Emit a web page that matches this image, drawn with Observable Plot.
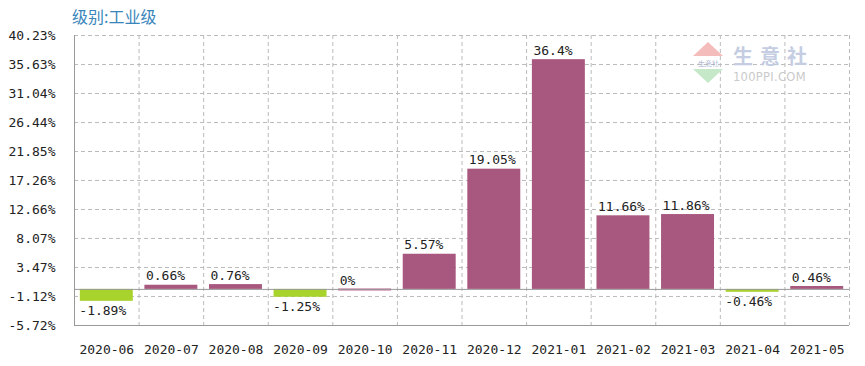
<!DOCTYPE html>
<html><head><meta charset="utf-8">
<script src="https://cdn.jsdelivr.net/npm/d3@7"></script>
<script src="https://cdn.jsdelivr.net/npm/@observablehq/plot@0.6"></script>
<style>
body{margin:0;background:#fff;}
#wrap{position:relative;width:865px;height:366px;}
#title{position:absolute;left:72px;top:4px;font:16px "Noto Sans CJK SC",sans-serif;color:#3a86bb;}
#wm1{position:absolute;left:733px;top:41px;font:bold 20px "Noto Sans CJK SC",sans-serif;color:#c5cde2;letter-spacing:7px;}
#wm2{position:absolute;left:733px;top:70px;font:11.5px "DejaVu Sans",sans-serif;color:#cacaca;letter-spacing:0.3px;}
#logo{position:absolute;left:692px;top:42px;}
</style></head>
<body><div id="wrap"><div id="chart"></div><div id="title">级别:工业级</div>
<svg id="logo" width="34" height="42"><polygon points="16,0 31,14 1,14" fill="#f5bcbc"/><polygon points="1,27 31,27 16,41" fill="#c4e8c8"/><text x="16" y="24" font-size="7" text-anchor="middle" fill="#9aa8c8" font-family="DejaVu Sans">生意社</text></svg>
<div id="wm1">生意社</div><div id="wm2">100PPI.COM</div></div>
<script>
const months = ["2020-06","2020-07","2020-08","2020-09","2020-10","2020-11","2020-12","2021-01","2021-02","2021-03","2021-04","2021-05"];
const values = [-1.89,0.66,0.76,-1.25,0,5.57,19.05,36.4,11.66,11.86,-0.46,0.46];
const labels = ["-1.89%","0.66%","0.76%","-1.25%","0%","5.57%","19.05%","36.4%","11.66%","11.86%","-0.46%","0.46%"];
const yTicks = [40.23,35.63,31.04,26.44,21.85,17.26,12.66,8.07,3.47,-1.12,-5.72];
const yTickLabels = ["40.23%","35.63%","31.04%","26.44%","21.85%","17.26%","12.66%","8.07%","3.47%","-1.12%","-5.72%"];

const data = months.map((m,i)=>({m, v: values[i], label: labels[i]}));
const W = 865, ML = 74, MR = 16;
const padIn = 0.18, padOut = 0.09;
const step = (W - ML - MR) / (months.length - padIn + 2*padOut);
const bw = step*(1-padIn);
const font = "DejaVu Sans Mono, monospace";
const fmt = (d)=>yTickLabels[yTicks.indexOf(d)];

const chart = Plot.plot({
  width: W, height: 366,
  marginLeft: ML, marginRight: MR, marginTop: 35, marginBottom: 41,
  style: {fontFamily: font, fontSize: "13px", color: "#222", background: "#fff"},
  x: {domain: months, paddingInner: padIn, paddingOuter: padOut, round: false, label: null},
  y: {domain: [-5.72, 40.23], label: null},
  marks: [
    Plot.ruleY(yTicks.filter(d=>d>-5.72), {stroke: "#bbb", strokeDasharray: "4,3", strokeOpacity: 1}),
    Plot.ruleX(months, {x: d=>d, dx: step/2, stroke: "#bbb", strokeDasharray: "4,3"}),
    Plot.barY(data.filter(d=>d.v!==0), {x: "m", y: "v", fill: d=>d.v<0 ? "#a8d22c" : "#a8577e"}),
    Plot.ruleY(data.filter(d=>d.v===0), {y: "v", x1: "m", x2: "m", dx: 0, stroke: "#c0648f", strokeWidth: 2}),
    Plot.ruleY([0], {stroke: "#999"}),
    Plot.ruleY([-5.72], {stroke: "#999"}),
    Plot.ruleX([months[0]], {dx: -step/2, stroke: "#999"}),
    Plot.text(data.filter(d=>d.v>=0), {x: "m", y: "v", text: "label", textAnchor: "start", dx: -bw/2 + 1,
      dy: -9, lineAnchor: "middle", fill: "#222", fontSize: 13}),
    Plot.text(data.filter(d=>d.v<0), {x: "m", y: "v", text: "label", textAnchor: "start", dx: -bw/2 - 1,
      dy: 10, lineAnchor: "middle", fill: "#222", fontSize: 13}),
    Plot.axisX({tickSize: 0, tickPadding: 19, fontSize: 13}),
    Plot.axisY({ticks: yTicks, tickFormat: fmt, tickSize: 0, tickPadding: 19, fontSize: 13})
  ]
});
document.getElementById("chart").appendChild(chart);
</script></body></html>
